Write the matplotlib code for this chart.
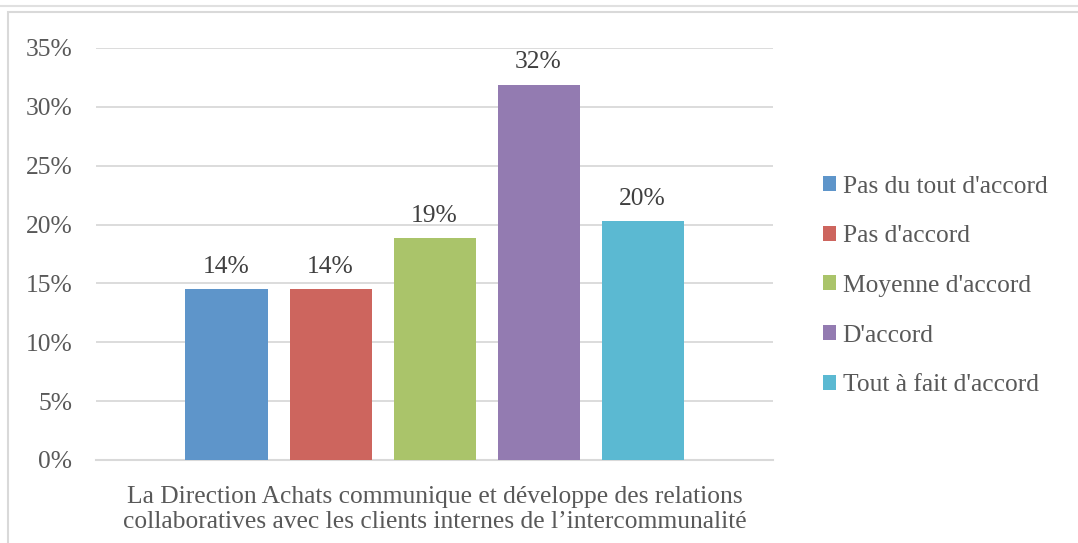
import numpy as np
import matplotlib
matplotlib.use('Agg')
import matplotlib.pyplot as plt
from matplotlib.patches import Rectangle

# survey answers (share of respondents)
categories = ["Pas du tout d'accord", "Pas d'accord", "Moyenne d'accord",
              "D'accord", "Tout à fait d'accord"]
values = [0.1449, 0.1449, 0.1884, 0.3188, 0.2029]
colors = ['#5E95CA', '#CD655E', '#AAC46A', '#937BB1', '#5BB9D2']
yticks = [0, 0.05, 0.10, 0.15, 0.20, 0.25, 0.30, 0.35]
xlabel = ("La Direction Achats communique et développe des relations\n"
          "collaboratives avec les clients internes de l\u2019intercommunalité")

plt.rcParams['font.family'] = ['Liberation Serif', 'DejaVu Serif']
text_color = '#595959'
fs = 18.4
W, H = 1078, 543

fig = plt.figure(figsize=(W / 100, H / 100), dpi=100)

# chart area border
fig.add_artist(plt.Line2D([0, 1], [1 - 6 / H, 1 - 6 / H], color='#E0E0E0', lw=1.5))
fig.add_artist(Rectangle((8 / W, -0.1), 1.2, 1 - 12 / H + 0.1, fill=False,
                         edgecolor='#D9D9D9', lw=1.5, transform=fig.transFigure))

ax = fig.add_axes([96 / W, 1 - 460 / H, (773 - 96) / W, (460 - 48) / H])

bw = 82 / 677
step = 104 / 677
offs = (np.arange(len(values)) - 2) * step
bars = ax.bar(offs, values, width=bw, color=colors, label=categories, zorder=3)

for x, v in zip(offs, values):
    ax.text(x, v + 0.0098, '{:.0f}%'.format(v * 100), ha='center', va='bottom',
            fontsize=fs, color='#404040')

ax.set_xlim(-0.5, 0.5)
ax.set_ylim(0, 0.35)
ax.set_yticks(yticks)
ax.set_yticklabels(['{:.0f}%'.format(t * 100) for t in yticks])
ax.yaxis.grid(True, color='#D9D9D9', lw=1.3, zorder=0)
ax.set_xticks([])
ax.tick_params(axis='y', length=0, pad=17, labelsize=fs, labelcolor=text_color)
for s in ['top', 'right', 'left']:
    ax.spines[s].set_visible(False)
ax.spines['bottom'].set_color('#D9D9D9')
ax.spines['bottom'].set_linewidth(1.5)

ax.text(0, -0.022, xlabel, ha='center', va='top', fontsize=fs,
        color=text_color, linespacing=1.2, transform=ax.transData)

leg = fig.legend(handles=bars, labels=categories, loc='center left',
                 bbox_to_anchor=(800 / W, 1 - 286 / H), frameon=False,
                 fontsize=fs, labelcolor=text_color, handlelength=0.52,
                 handleheight=0.52, handletextpad=0.25, labelspacing=1.08)

fig.savefig('out.png', dpi=100)
